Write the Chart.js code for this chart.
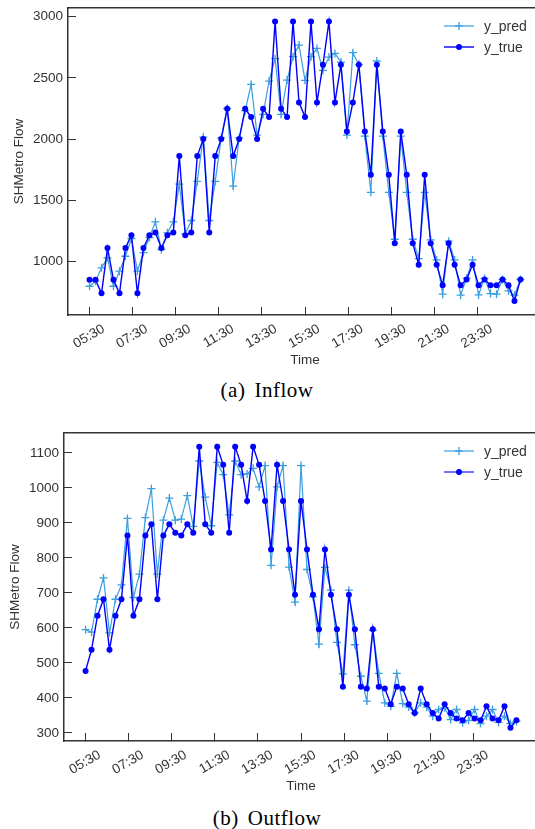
<!DOCTYPE html>
<html>
<head>
<meta charset="utf-8">
<script src="https://cdn.jsdelivr.net/npm/chart.js@4.4.0/dist/chart.umd.min.js"></script>
<style>
  body { margin:0; width:535px; height:829px; overflow:hidden; background:#fff; position:relative; font-family:"Liberation Sans", Arial, sans-serif; }
  .panel { position:absolute; left:0; }
  .legend { position:absolute; left:444px; font-size:14px; color:#333; }
  .legend div { height:21px; display:flex; align-items:center; }
  .legend svg { margin-right:10px; }
  .caption { position:absolute; left:0; width:534px; text-align:center; font-family:"Liberation Serif","DejaVu Serif",serif; font-size:21px; letter-spacing:0.5px; color:#000; line-height:24px; }
  .caption span { margin-left:9px; }
</style>
</head>
<body>
<div class="panel" style="top:0"><canvas id="inflow" width="560" height="372"></canvas></div>
<div class="legend" style="top:15px">
  <div><svg width="30" height="10"><line x1="0" y1="5" x2="30" y2="5" stroke="#3a9fdf" stroke-width="1.2"/><line x1="11" y1="5" x2="19" y2="5" stroke="#3a9fdf" stroke-width="1.3"/><line x1="15" y1="1" x2="15" y2="9" stroke="#3a9fdf" stroke-width="1.3"/></svg>y_pred</div>
  <div><svg width="30" height="10"><line x1="0" y1="5" x2="30" y2="5" stroke="#0000ff" stroke-width="1.4"/><circle cx="15" cy="5" r="3" fill="#0000ff"/></svg>y_true</div>
</div>
<div class="caption" style="top:378px">(a)<span>Inflow</span></div>

<div class="panel" style="top:420px"><canvas id="outflow" width="560" height="380"></canvas></div>
<div class="legend" style="top:440px">
  <div><svg width="30" height="10"><line x1="0" y1="5" x2="30" y2="5" stroke="#3a9fdf" stroke-width="1.2"/><line x1="11" y1="5" x2="19" y2="5" stroke="#3a9fdf" stroke-width="1.3"/><line x1="15" y1="1" x2="15" y2="9" stroke="#3a9fdf" stroke-width="1.3"/></svg>y_pred</div>
  <div><svg width="30" height="10"><line x1="0" y1="5" x2="30" y2="5" stroke="#5050ff" stroke-width="1.6"/><circle cx="15" cy="5" r="3" fill="#0000ff"/></svg>y_true</div>
</div>
<div class="caption" style="top:806px">(b)<span>Outflow</span></div>

<script>
// time axis (minutes after midnight)
const xTickLabels = ['05:30', '07:30', '09:30', '11:30', '13:30', '15:30', '17:30', '19:30', '21:30', '23:30'];
const startMinute = 330;
const stepMinute = 1200 / 72;

const inflowTrue = [
  850, 850, 740, 1110, 850, 740, 1110, 1215, 740, 1110,
  1215, 1237, 1110, 1215, 1237, 1861, 1215, 1237, 1861, 2000,
  1237, 1861, 2000, 2248, 1861, 2000, 2248, 2180, 2000, 2248,
  2180, 2960, 2248, 2180, 2960, 2300, 2180, 2960, 2300, 2608,
  2960, 2300, 2608, 2063, 2300, 2608, 2063, 1708, 2608, 2063,
  1708, 1150, 2063, 1708, 1150, 973, 1708, 1150, 973, 806,
  1150, 973, 806, 853, 973, 806, 853, 806, 806, 853,
  806, 678, 853
];
const inflowPred = [
  798, 839, 948, 1030, 798, 921, 1043, 1188, 921, 1073,
  1196, 1324, 1098, 1234, 1324, 1632, 1226, 1335, 1654, 2016,
  1335, 1654, 2010, 2250, 1616, 2010, 2232, 2447, 2033, 2202,
  2474, 2657, 2202, 2482, 2673, 2768, 2480, 2673, 2741, 2561,
  2670, 2700, 2629, 2033, 2706, 2608, 2024, 1564, 2638, 2024,
  1564, 1182, 2024, 1564, 1182, 1024, 1564, 1177, 1013, 733,
  1166, 1013, 725, 864, 1013, 727, 862, 738, 733, 853,
  760, 725, 853
];
const inflowYTicks = [1000, 1500, 2000, 2500, 3000];

const outflowTrue = [
  477, 538, 635, 682, 538, 635, 682, 864, 635, 682,
  864, 896, 682, 864, 896, 872, 864, 896, 872, 1118,
  896, 872, 1118, 1066, 872, 1118, 1066, 963, 1118, 1066,
  963, 824, 1066, 963, 824, 695, 963, 824, 695, 596,
  824, 695, 596, 432, 695, 596, 432, 427, 596, 432,
  427, 382, 432, 427, 382, 357, 427, 382, 357, 341,
  382, 357, 341, 336, 357, 341, 336, 376, 341, 336,
  376, 315, 336
];
const outflowPred = [
  595, 588, 682, 743, 586, 682, 723, 913, 687, 754,
  915, 998, 754, 908, 971, 908, 911, 978, 890, 1077,
  974, 892, 1073, 1038, 923, 1077, 1038, 1040, 1056, 1003,
  1064, 779, 1003, 1064, 774, 674, 1064, 767, 689, 554,
  773, 708, 559, 469, 708, 552, 462, 391, 593, 470,
  386, 376, 470, 384, 374, 357, 386, 374, 348, 367,
  372, 338, 367, 329, 336, 367, 327, 348, 367, 330,
  348, 327, 333
];
const outflowYTicks = [300, 400, 500, 600, 700, 800, 900, 1000, 1100];

const predColor = '#3a9fdf';
const trueColor = '#0000ff';
const axisColor = '#333';

function toMinutes(label) {
  const [h, m] = label.split(':').map(Number);
  return h * 60 + m;
}
function fmtTime(v) {
  const h = Math.floor(v / 60), m = Math.round(v % 60);
  return String(h).padStart(2, '0') + ':' + String(m).padStart(2, '0');
}
function toPoints(vals) {
  return vals.map((v, i) => ({ x: startMinute + i * stepMinute, y: v }));
}
function noPad(s) {
  s.paddingTop = 0; s.paddingBottom = 0; s.paddingLeft = 0; s.paddingRight = 0;
}

function makeChart(id, predVals, trueVals, yTicks, yMin, yMax, box) {
  const canvas = document.getElementById(id);
  const W = canvas.width, H = canvas.height;
  const tickFont = { family: 'Liberation Sans', size: 13.5 };
  return new Chart(canvas, {
    type: 'line',
    data: {
      datasets: [
        { label: 'y_pred', data: toPoints(predVals), xAxisID: 'x', yAxisID: 'y',
          borderColor: predColor, backgroundColor: predColor, borderWidth: 1.2,
          pointStyle: 'cross', pointRadius: 4, pointBorderWidth: 1.3, tension: 0, order: 1 },
        { label: 'y_true', data: toPoints(trueVals), xAxisID: 'x', yAxisID: 'y',
          borderColor: trueColor, backgroundColor: trueColor, borderWidth: 1.4,
          pointStyle: 'circle', pointRadius: 3, pointBorderWidth: 0, tension: 0, order: 0 }
      ]
    },
    options: {
      responsive: false,
      animation: false,
      devicePixelRatio: 1,
      layout: { padding: { left: 0, top: box.top, right: W - box.right, bottom: box.padBottom } },
      plugins: { legend: { display: false }, tooltip: { enabled: false } },
      scales: {
        x: {
          type: 'linear', position: 'bottom', min: 270, max: 1590,
          afterBuildTicks: s => { s.ticks = xTickLabels.map(l => ({ value: toMinutes(l) })); },
          afterFit: s => { s.height = H - box.bottom - box.padBottom; noPad(s); },
          ticks: { minRotation: 30, maxRotation: 30, autoSkip: false, padding: 14, labelOffset: 14,
                   color: axisColor, font: tickFont, callback: v => fmtTime(v) },
          grid: { drawOnChartArea: false, tickLength: -8, color: axisColor, lineWidth: 1 },
          border: { color: axisColor, width: 1.5 },
          title: { display: true, text: 'Time', color: axisColor, font: tickFont,
                   padding: { top: 0, bottom: box.xTitlePad } }
        },
        xTop: {
          type: 'linear', position: 'top', min: 270, max: 1590,
          ticks: { display: false }, grid: { display: false, drawTicks: false },
          border: { color: axisColor, width: 1.5 },
          afterFit: s => { s.height = 0; noPad(s); }
        },
        y: {
          type: 'linear', position: 'left', min: yMin, max: yMax,
          afterBuildTicks: s => { s.ticks = yTicks.map(v => ({ value: v })); },
          afterFit: s => { s.width = box.left; noPad(s); },
          ticks: { padding: 13, color: axisColor, font: tickFont, callback: v => String(v) },
          grid: { drawOnChartArea: false, tickLength: -8, color: axisColor, lineWidth: 1 },
          border: { color: axisColor, width: 1.5 },
          title: { display: true, text: 'SHMetro Flow', color: axisColor, font: tickFont,
                   padding: { top: box.yTitlePad, bottom: 0 } }
        }
      }
    }
  });
}

makeChart('inflow', inflowPred, inflowTrue, inflowYTicks, 563, 3071,
  { left: 68, top: 8, right: 542, bottom: 315, padBottom: 0, xTitlePad: 4, yTitlePad: 11 });
makeChart('outflow', outflowPred, outflowTrue, outflowYTicks, 277, 1157,
  { left: 64, top: 13, right: 538, bottom: 321, padBottom: 0, xTitlePad: 6, yTitlePad: 7 });
</script>
</body>
</html>
